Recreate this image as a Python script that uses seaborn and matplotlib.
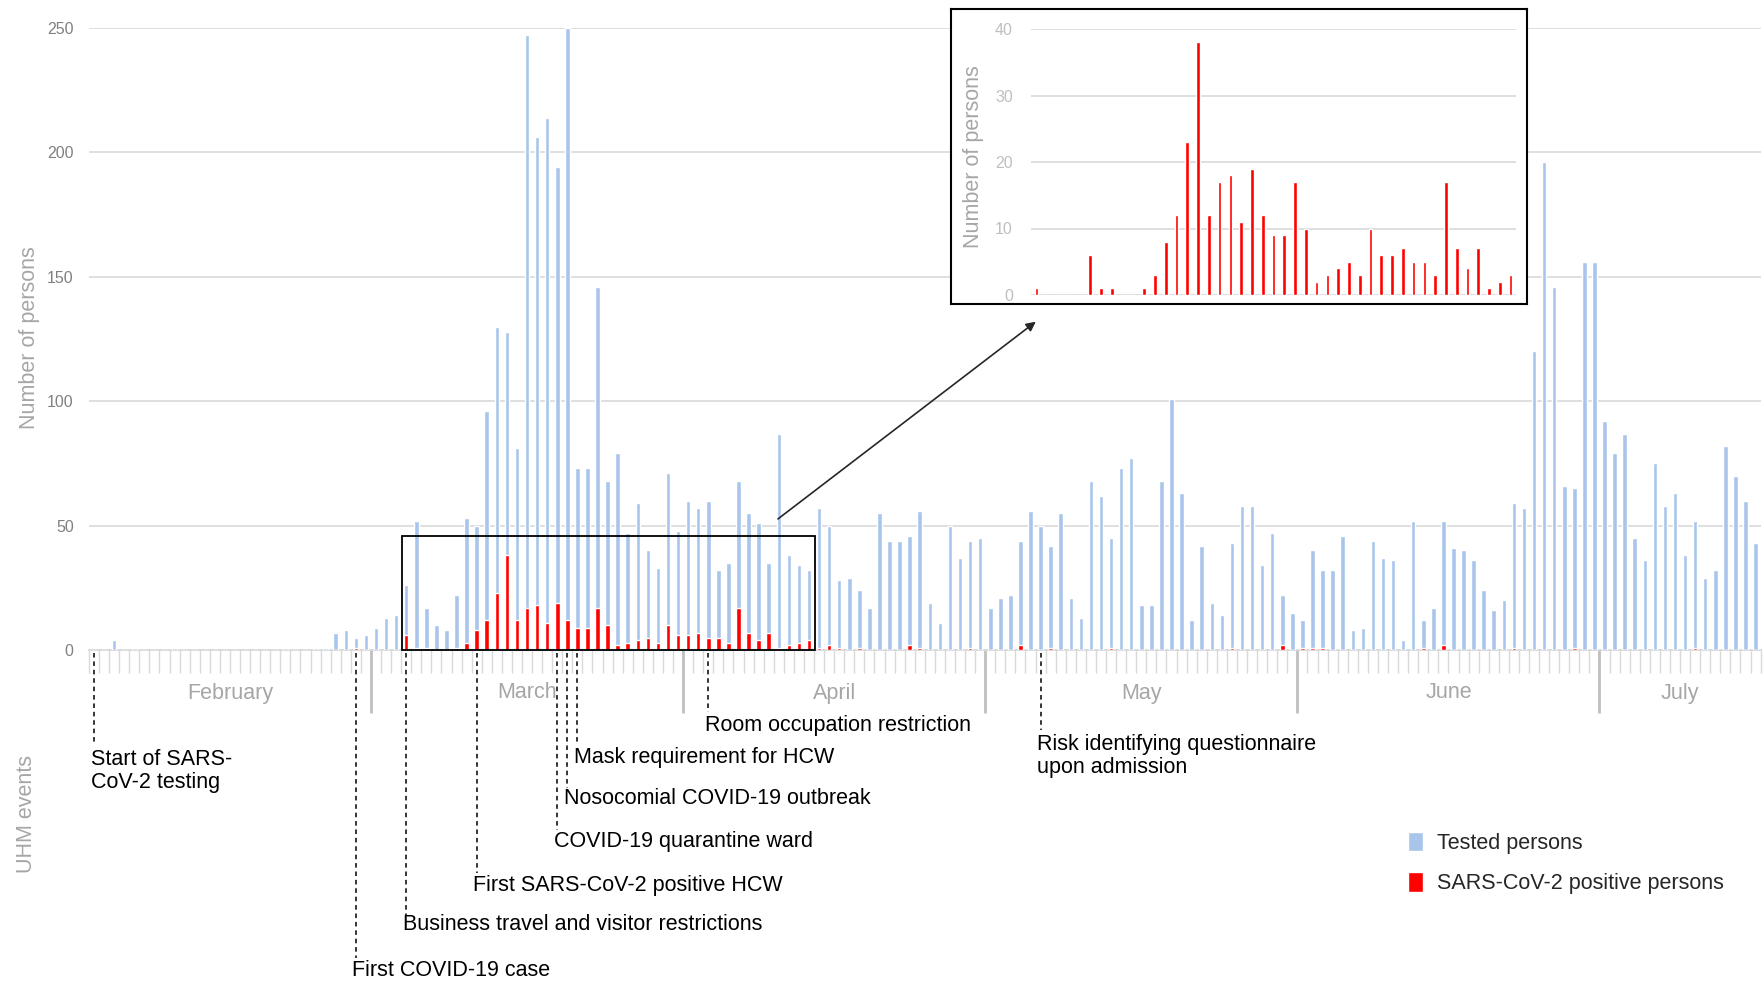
import numpy as np
import pandas as pd
import matplotlib
matplotlib.use('Agg')
import matplotlib.pyplot as plt
import matplotlib.transforms as mtransforms
from matplotlib.patches import Rectangle
import seaborn as sns

# daily counts, Feb 2 .. Jul 16 (one entry per day)
tested = [
    0, 0, 4, 0, 1, 0, 0, 0, 1, 0, 0, 0, 0, 0, 0, 0, 0, 0, 0, 1, 0, 0, 1, 1, 7, 8, 5, 6,
    9, 13, 14, 26, 52, 17, 10, 8, 22, 53, 50, 96, 130, 128, 81, 247, 206, 214, 194, 250,
    73, 73, 146, 68, 79, 47, 59, 40, 33, 71, 48,
    60, 57, 60, 32, 35, 68, 55, 51, 35, 87, 38, 34, 32, 57, 50, 28, 29, 24, 17, 55,
    44, 44, 46, 56, 19, 11, 50, 37, 44, 45,
    17, 21, 22, 44, 56, 50, 42, 55, 21, 13, 68, 62, 45, 73, 77, 18, 18, 68, 101, 63,
    12, 42, 19, 14, 43, 58, 58, 34, 47, 22, 15,
    12, 40, 32, 32, 46, 8, 9, 44, 37, 36, 4, 52, 12, 17, 52, 41, 40, 36, 24, 16,
    20, 59, 57, 120, 196, 146, 66, 65, 156, 156,
    92, 79, 87, 45, 36, 75, 58, 63, 38, 52, 29, 32, 82, 70, 60, 43,
]
positive = [
    0, 0, 0, 0, 0, 0, 0, 0, 0, 0, 0, 0, 0, 0, 0, 0, 0, 0, 0, 0, 0, 0, 0, 0, 0, 0, 1, 0,
    0, 0, 0, 6, 1, 1, 0, 0, 1, 3, 8, 12, 23, 38, 12, 17, 18, 11, 19, 12, 9, 9, 17, 10,
    2, 3, 4, 5, 3, 10, 6,
    6, 7, 5, 5, 3, 17, 7, 4, 7, 1, 2, 3, 4, 1, 2, 1, 0, 1, 0, 0, 0, 0, 2, 1, 0, 0, 0, 0, 1, 0,
    0, 0, 0, 2, 0, 0, 1, 0, 0, 0, 0, 0, 1, 0, 0, 0, 0, 0, 0, 0, 0, 0, 0, 0, 1, 0, 0, 0, 0, 2, 0,
    1, 1, 1, 0, 0, 0, 0, 0, 0, 0, 0, 0, 1, 0, 2, 0, 0, 0, 0, 0, 0, 1, 0, 0, 0, 0, 0, 1, 0, 0,
    0, 0, 0, 0, 0, 0, 0, 0, 0, 1, 0, 0, 0, 0, 0, 0,
]
months = ['February', 'March', 'April', 'May', 'June', 'July']
month_days = [28, 31, 30, 31, 30, 16]

event_labels = [
    'Start of SARS-\nCoV-2 testing',
    'First COVID-19 case',
    'Business travel and visitor restrictions',
    'First SARS-CoV-2 positive HCW',
    'COVID-19 quarantine ward',
    'Nosocomial COVID-19 outbreak',
    'Mask requirement for HCW',
    'Room occupation restriction',
    'Risk identifying questionnaire\nupon admission',
]
event_days = [0, 26, 31, 38, 46, 47, 48, 61, 94]

# zoomed period shown in the inset
inset_first, inset_last = 26, 70

# layout (pixel rows of the text centres / line ends)
event_text_y = [771, 971, 925, 885, 842, 799, 758, 725, 756]
event_line_end = [744, 958, 915, 873, 830, 788, 742, 712, 730]

BLUE = '#a9c5eb'
RED = '#ff0000'
W, H = 1765, 984


def fy(y):
    return 1 - y / H


def fx(x):
    return x / W


df = pd.DataFrame({'day': range(len(tested)), 'tested': tested, 'positive': positive})

sns.set_style('white')
plt.rcParams['font.family'] = ['Liberation Sans', 'DejaVu Sans']

fig = plt.figure(figsize=(W / 100, H / 100), dpi=100)
ax = fig.add_axes([fx(89), fy(650), fx(1671.6), (650 - 28) / H])

sns.barplot(data=df, x='day', y='tested', color=BLUE, width=0.45, saturation=1,
            errorbar=None, ax=ax, label='Tested persons', zorder=3)
sns.barplot(data=df, x='day', y='positive', color=RED, width=0.45, saturation=1,
            errorbar=None, ax=ax, label='SARS-CoV-2 positive persons', zorder=4)

ax.set_xlim(-0.5, len(tested) - 0.5)
ax.set_ylim(0, 250)
ax.set_yticks(range(0, 251, 50))
ax.yaxis.grid(True, color='#d9d9d9', lw=1.2)
ax.set_axisbelow(True)
ax.tick_params(axis='y', length=0, pad=11, labelsize=11.5, labelcolor='#808080')
ax.set_xlabel('')
ax.set_ylabel('')
for s in ['top', 'right', 'left']:
    ax.spines[s].set_visible(False)
ax.spines['bottom'].set_color('#d9d9d9')
ax.spines['bottom'].set_linewidth(1.3)

# day ticks and month separators
bounds = np.cumsum([0] + month_days)
sep = [b - 0.5 for b in bounds[1:-1]]
day_ticks = [i - 0.5 for i in range(len(tested) + 1) if i - 0.5 not in sep]
ax.set_xticks(day_ticks)
ax.set_xticklabels([])
ax.set_xticks(sep, minor=True)
ax.tick_params(axis='x', which='major', length=16.5, width=1, color='#d9d9d9', bottom=True)
ax.tick_params(axis='x', which='minor', length=45, width=2, color='#bfbfbf', bottom=True)

trans = mtransforms.blended_transform_factory(ax.transData, fig.transFigure)
for m, a, b in zip(months, bounds[:-1], bounds[1:]):
    ax.text((a + b - 1) / 2, fy(693), m, transform=trans, ha='center', va='center',
            fontsize=15.5, color='#a6a6a6')

# events
for lab, d, ty, ly in zip(event_labels, event_days, event_text_y, event_line_end):
    ax.plot([d, d], [fy(653), fy(ly)], transform=trans, color='black', lw=1.1,
            ls=(0, (3, 2.5)), clip_on=False)
    ax.text(d - 0.35, fy(ty), lab, transform=trans, ha='left', va='center',
            fontsize=15.5, color='black', linespacing=1.15)

fig.text(fx(30), fy(338), 'Number of persons', rotation=90, ha='center', va='center',
         fontsize=15.5, color='#a6a6a6')
fig.text(fx(27), fy(814), 'UHM events', rotation=90, ha='center', va='center',
         fontsize=15.5, color='#a6a6a6')

# highlight box and arrow
ax.add_patch(Rectangle((inset_first + 4.6, 0), inset_last - inset_first - 3, 46, fill=False,
                       edgecolor='black', lw=1.3, zorder=5, clip_on=False))
ax.annotate('', xy=(fx(1038), fy(320)), xycoords='figure fraction',
            xytext=(67.7, 52), textcoords='data',
            arrowprops=dict(arrowstyle='-|>', color='#262626', lw=1.2, mutation_scale=14))

ax.legend(loc='upper left', bbox_to_anchor=(fx(1408), fy(832)), bbox_transform=fig.transFigure,
          frameon=False, fontsize=15.5, handlelength=0.7, handleheight=1.0,
          handletextpad=0.65, labelspacing=0.85, borderpad=0, borderaxespad=0)

# inset
frame = fig.add_axes([fx(951), fy(304), fx(576), 295 / H])
frame.set_xticks([])
frame.set_yticks([])
frame.set_facecolor('white')
for s in frame.spines.values():
    s.set_color('black')
    s.set_linewidth(1.5)

ins = fig.add_axes([fx(1031), fy(295), fx(485), 266 / H])
dfi = pd.DataFrame({'day': range(inset_last - inset_first + 1),
                    'positive': positive[inset_first:inset_last + 1]})
sns.barplot(data=dfi, x='day', y='positive', color=RED, width=0.34, saturation=1,
            errorbar=None, ax=ins, zorder=3)
ins.set_xlim(-0.5, len(dfi) - 0.5)
ins.set_ylim(0, 40)
ins.set_yticks(range(0, 41, 10))
ins.yaxis.grid(True, color='#d9d9d9', lw=1.2)
ins.set_axisbelow(True)
ins.set_xticks([])
ins.set_xlabel('')
ins.set_ylabel('')
ins.tick_params(axis='y', length=0, pad=13, labelsize=11.5, labelcolor='#bfbfbf')
for s in ins.spines.values():
    s.set_visible(False)
fig.text(fx(974), fy(157), 'Number of persons', rotation=90, ha='center', va='center',
         fontsize=15.5, color='#a6a6a6')

fig.savefig('out.png', dpi=100)
